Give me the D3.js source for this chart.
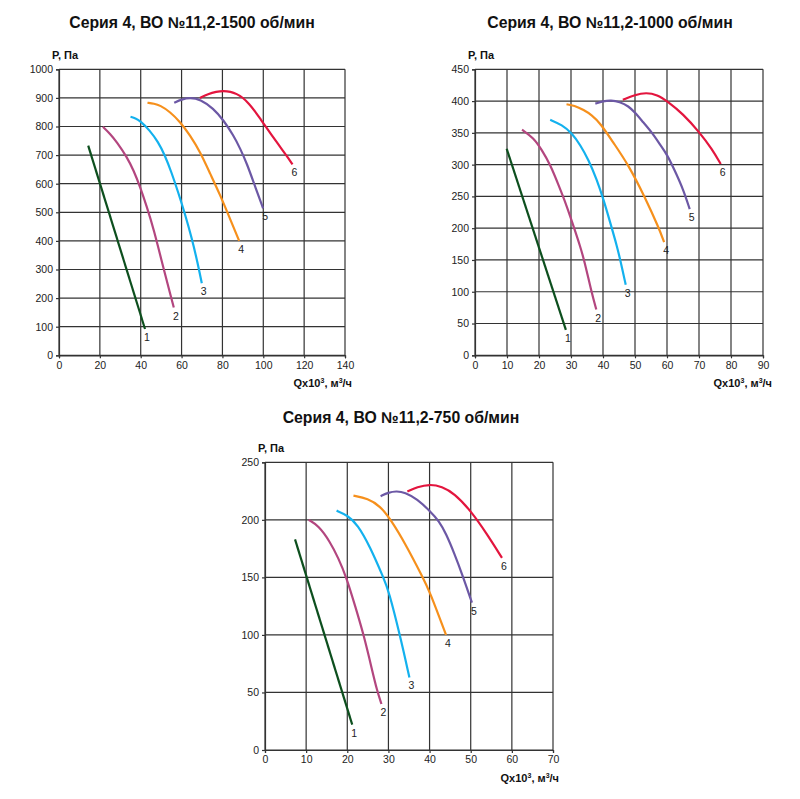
<!DOCTYPE html>
<html>
<head>
<meta charset="utf-8">
<script src="https://cdn.jsdelivr.net/npm/d3@7"></script>
<style>
  body { margin: 0; background: #fff; }
  svg { font-family: "Liberation Sans", Arial, sans-serif; }
  .title { font-size: 15.8px; font-weight: bold; fill: #111; }
  .axis-label { font-size: 11px; font-weight: bold; fill: #111; }
  .tick text { font-size: 10.5px; fill: #222; }
  .curve-label { font-size: 10.5px; fill: #222; }
</style>
</head>
<body>
<svg id="chart" width="800" height="799"></svg>
<script>
// curve colours, same order for every speed
const curveNames = ["1", "2", "3", "4", "5", "6"];
const curveColors = ["#0d4f1e", "#b3467f", "#13b1ee", "#f6901c", "#6c58a5", "#e3153e"];

// 1500 об/мин  [Q x10^3 м3/ч, P Па]
const curves1500 = [
    [[14.3, 733], [42.1, 92]],
    [[21.5, 799], [25, 775], [28.3, 746], [33.2, 694], [36.5, 647], [39.7, 589], [43, 519], [46.3, 443], [51.3, 300], [55, 200], [56.2, 167]],
    [[35, 834], [37.5, 829], [39.6, 820], [44.4, 787], [48.5, 746], [51.8, 700], [55, 641], [58.3, 571], [61.6, 496], [65, 410], [67.8, 325], [69.9, 252]],
    [[43.3, 883], [46.5, 880], [49.5, 874], [54.4, 851], [59.3, 816], [64.2, 769], [69.1, 711], [74, 635], [78.9, 560], [83, 490], [88.2, 400]],
    [[56.4, 883], [60, 895], [64.2, 901], [69.1, 895], [75.6, 863], [80.5, 822], [85.4, 769], [88.7, 723], [92, 670], [95.5, 600], [99.9, 514]],
    [[69, 900], [73, 914], [77, 922], [80.5, 925], [84, 922], [87, 914], [90, 901], [93, 880], [96, 853], [99, 822], [101.2, 800], [104, 771], [107, 741], [111.3, 699], [114.3, 668]]
];

// 1000 об/мин
const curves1000 = [
    [[9.9, 325], [28.4, 40]],
    [[14.7, 355], [18.3, 342], [20.9, 323], [23.5, 300], [26.1, 268], [28.75, 234], [30.8, 203], [32.9, 171], [34.1, 150], [36.4, 100], [37.9, 72]],
    [[23.5, 370.5], [27.2, 362.6], [30.3, 349.5], [32.9, 331], [35.5, 307.5], [38.1, 276], [40.2, 244.5], [42.3, 208], [44.4, 171], [45.4, 150], [47.1, 111]],
    [[28.6, 395], [31, 393], [34, 386], [36.5, 378], [39.2, 365], [43.3, 334], [47.9, 300], [53, 250], [57.5, 200], [59.1, 178]],
    [[37.6, 396], [40, 400], [42.5, 401.5], [45.2, 399], [48, 392], [50, 382], [52.5, 367], [55.4, 350], [58, 330], [60, 316], [62.4, 291], [65, 262], [67.1, 230]],
    [[46.2, 402], [50, 410], [53.5, 413.5], [57, 410], [60, 400], [65, 380], [70.3, 350], [74, 325], [76.8, 301]]
];

// 750 об/мин
const curves750 = [
    [[7.3, 183], [21.2, 22]],
    [[10.6, 200], [13, 195], [15.8, 181], [17.8, 167], [19.8, 150], [22, 124], [24, 100], [26, 70], [27.2, 52], [28.3, 40]],
    [[17.4, 208], [20, 204], [22.5, 196], [25.5, 177], [29, 148], [30, 139], [32.8, 100], [35.1, 63]],
    [[21.5, 221], [25, 218.5], [28, 212], [30.6, 200], [34, 180], [38.5, 149], [40, 138], [44, 100]],
    [[28.1, 220.6], [30, 223.8], [31.9, 225], [34, 224], [37, 218], [40, 208], [42.3, 199], [44, 188], [46, 171], [48, 152], [50.3, 128]],
    [[34.6, 224.6], [37, 228.5], [40, 231], [43, 229], [46, 223], [50, 208], [53.9, 188], [57.6, 167]]
];

const xTicks1500 = d3.range(0, 141, 20);
const yTicks1500 = d3.range(0, 1001, 100);
const xTicks1000 = d3.range(0, 91, 10);
const yTicks1000 = d3.range(0, 451, 50);
const xTicks750 = d3.range(0, 71, 10);
const yTicks750 = d3.range(0, 251, 50);

const svg = d3.select('#chart');

function drawChart(cfg) {
    const w = cfg.width, h = cfg.height;
    const g = svg.append('g')
        .attr('transform', `translate(${cfg.left}, ${cfg.top})`);

    const x = d3.scaleLinear()
        .domain([0, d3.max(cfg.xTicks)])
        .range([0, w]);
    const y = d3.scaleLinear()
        .domain([0, d3.max(cfg.yTicks)])
        .range([h, 0]);

    // title
    svg.append('text')
        .attr('class', 'title')
        .attr('x', cfg.titleX)
        .attr('y', cfg.titleY)
        .attr('text-anchor', 'middle')
        .text(cfg.title);

    // grid
    g.append('g').selectAll('line')
        .data(cfg.xTicks)
        .join('line')
        .attr('x1', d => x(d)).attr('x2', d => x(d))
        .attr('y1', 0).attr('y2', h)
        .attr('stroke', '#333').attr('stroke-width', 1.2);
    g.append('g').selectAll('line')
        .data(cfg.yTicks)
        .join('line')
        .attr('x1', 0).attr('x2', w)
        .attr('y1', d => y(d)).attr('y2', d => y(d))
        .attr('stroke', '#333').attr('stroke-width', 1.2);

    // axes (short outward ticks + labels)
    const fmt = d3.format('d');
    const xAxis = g.append('g')
        .attr('transform', `translate(0, ${h})`)
        .call(d3.axisBottom(x).tickValues(cfg.xTicks).tickFormat(fmt).tickSize(3).tickPadding(3));
    const yAxis = g.append('g')
        .call(d3.axisLeft(y).tickValues(cfg.yTicks).tickFormat(fmt).tickSize(3).tickPadding(3));
    [xAxis, yAxis].forEach(a => {
        a.select('.domain').attr('stroke', '#333').attr('stroke-width', 1.2);
        a.selectAll('.tick line').attr('stroke', '#333').attr('stroke-width', 1.2);
        a.attr('font-family', null).attr('font-size', null);
    });

    // axis titles
    g.append('text')
        .attr('class', 'axis-label')
        .attr('x', -7)
        .attr('y', -10)
        .text('P, Па');

    const q = g.append('text')
        .attr('class', 'axis-label')
        .attr('x', w + cfg.qDx)
        .attr('y', h + 32)
        .attr('text-anchor', 'end');
    q.append('tspan').text('Qx10');
    q.append('tspan').attr('font-size', '7px').attr('dy', -4).text('3');
    q.append('tspan').attr('dy', 4).text(', м');
    q.append('tspan').attr('font-size', '7px').attr('dy', -4).text('3');
    q.append('tspan').attr('dy', 4).text('/ч');

    // curves - B-spline through the read-off points to keep them smooth
    const line = d3.line()
        .x(d => x(d[0]))
        .y(d => y(d[1]))
        .curve(d3.curveBasis);

    g.append('g').selectAll('path')
        .data(cfg.curves)
        .join('path')
        .attr('d', d => line(d))
        .attr('fill', 'none')
        .attr('stroke', (d, i) => curveColors[i])
        .attr('stroke-width', 2.2);

    // curve numbers at the end of each line
    g.append('g').selectAll('text')
        .data(cfg.curves)
        .join('text')
        .attr('class', 'curve-label')
        .attr('x', d => x(d[d.length - 1][0]) + 2)
        .attr('y', d => y(d[d.length - 1][1]) + 12)
        .attr('text-anchor', 'middle')
        .text((d, i) => curveNames[i]);
}

drawChart({
    title: 'Серия 4, ВО №11,2-1500 об/мин',
    titleX: 192, titleY: 28,
    left: 59, top: 69.3, width: 286, height: 286,
    xTicks: xTicks1500, yTicks: yTicks1500,
    curves: curves1500, qDx: 7
});

drawChart({
    title: 'Серия 4, ВО №11,2-1000 об/мин',
    titleX: 610, titleY: 28,
    left: 475, top: 69.3, width: 288, height: 286,
    xTicks: xTicks1000, yTicks: yTicks1000,
    curves: curves1000, qDx: 9
});

drawChart({
    title: 'Серия 4, ВО №11,2-750 об/мин',
    titleX: 401, titleY: 423,
    left: 265, top: 462.3, width: 288, height: 287.7,
    xTicks: xTicks750, yTicks: yTicks750,
    curves: curves750, qDx: 6
});
</script>
</body>
</html>
